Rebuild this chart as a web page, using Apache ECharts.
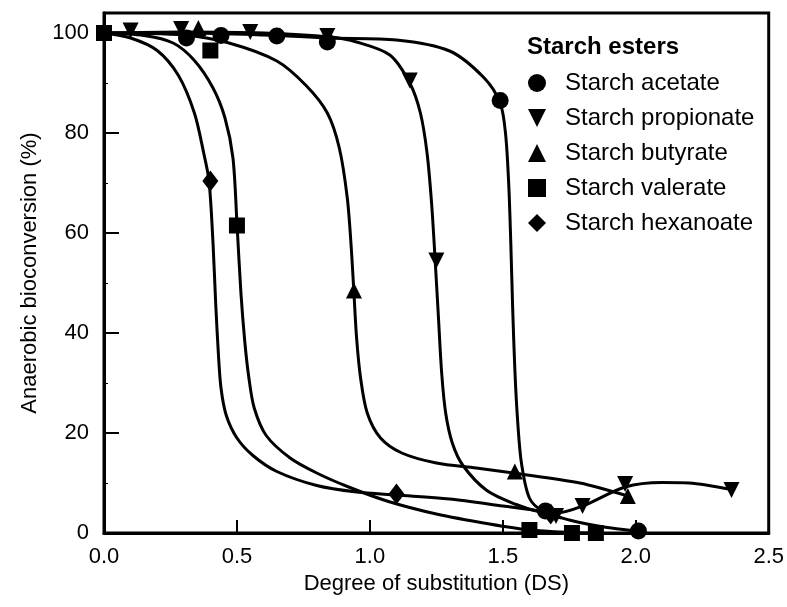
<!DOCTYPE html>
<html>
<head>
<meta charset="utf-8">
<script src="https://cdn.jsdelivr.net/npm/echarts@6/dist/echarts.min.js"></script>
<style>
  html, body { margin: 0; padding: 0; background: #fff; }
  #chart { width: 787px; height: 607px; }
</style>
</head>
<body>
<div id="chart"></div>
<script>
// measured points (DS, %) per ester
var acetatePts = [[0.31, 99], [0.44, 99.5], [0.65, 99.4], [0.84, 98.2], [1.49, 86.5], [1.66, 4.4], [2.01, 0.4]];
var propionatePts = [[0.1, 100.5], [0.29, 100.8], [0.55, 100.2], [0.84, 99.4], [1.15, 90.5], [1.25, 54.5], [1.70, 3.4], [1.80, 5.4], [1.96, 9.8], [2.36, 8.6]];
var butyratePts = [[0.355, 101], [0.94, 48.5], [1.545, 12.3], [1.97, 7.4]];
var valeratePts = [[0, 100], [0.40, 96.5], [0.50, 61.5], [1.60, 0.6], [1.76, 0], [1.85, 0]];
var hexanoatePts = [[0.40, 70.4], [1.10, 7.8], [1.68, 3.8]];

// fitted curves
var acetateCurve = [[0, 100], [0.3, 100], [0.6, 99.6], [0.85, 99], [1.1, 98.6], [1.3, 96.4], [1.43, 91], [1.49, 86], [1.51, 80], [1.522, 70], [1.53, 58], [1.537, 45], [1.545, 33], [1.555, 23], [1.57, 14], [1.6, 7], [1.65, 4.4], [1.75, 2.6], [1.88, 1.2], [2.0, 0.4]];
var propionateCurve = [[0, 100], [0.3, 100.2], [0.6, 100], [0.85, 99.2], [0.95, 98.2], [1.075, 95.6], [1.15, 90], [1.19, 84], [1.215, 76], [1.232, 66], [1.245, 55], [1.258, 43], [1.27, 32], [1.285, 24], [1.31, 18], [1.35, 13.5], [1.44, 8.5], [1.55, 5.7], [1.64, 4.2], [1.7, 4], [1.8, 5.4], [1.96, 9.2], [2.1, 10.1], [2.2, 10], [2.36, 8.7]];
var butyrateCurve = [[0, 100], [0.3, 99.6], [0.47, 98], [0.65, 94.4], [0.76, 89.5], [0.84, 84], [0.885, 77], [0.915, 67], [0.93, 57], [0.94, 48], [0.95, 39], [0.965, 31], [0.99, 24], [1.04, 19], [1.12, 16], [1.25, 14], [1.4, 13], [1.54, 12], [1.79, 10], [1.97, 7.4]];
var valerateCurve = [[0, 100], [0.15, 99.5], [0.26, 98], [0.34, 94.5], [0.41, 89], [0.455, 83], [0.485, 75], [0.5, 62], [0.515, 48], [0.53, 38], [0.545, 31], [0.565, 25], [0.61, 19.5], [0.7, 15], [0.8, 12], [0.92, 9.2], [1.07, 6.3], [1.25, 3.8], [1.45, 1.8], [1.6, 0.6], [1.76, 0.1], [1.85, 0]];
var hexanoateCurve = [[0, 100], [0.1, 99], [0.2, 96.5], [0.28, 91.5], [0.34, 84], [0.375, 76], [0.395, 70.4], [0.41, 58], [0.42, 46], [0.43, 36], [0.44, 29], [0.46, 23.5], [0.5, 19], [0.56, 15.5], [0.65, 12.3], [0.8, 9.5], [0.95, 8.2], [1.1, 7.6], [1.3, 6.8], [1.5, 5.4], [1.65, 4.3], [1.72, 3]];

var xTicks = [0, 0.5, 1.0, 1.5, 2.0, 2.5];
var yTicks = [0, 20, 40, 60, 80, 100];

var names = ['Starch acetate', 'Starch propionate', 'Starch butyrate', 'Starch valerate', 'Starch hexanoate'];
var symbols = ['circle', 'path://M0,0L10,0L5,10Z', 'triangle', 'rect', 'diamond'];
var symbolSizes = [17, 16, 16, 16, [16, 21]];
var points = [acetatePts, propionatePts, butyratePts, valeratePts, hexanoatePts];
var curves = [acetateCurve, propionateCurve, butyrateCurve, valerateCurve, hexanoateCurve];

var FONT = '"Liberation Sans", Arial, Helvetica, sans-serif';

var chart = echarts.init(document.getElementById('chart'), null, { renderer: 'canvas' });

var series = [];
curves.forEach(function (c, i) {
  series.push({
    name: names[i] + ' fit',
    type: 'line',
    data: c,
    smooth: 0.3,
    showSymbol: false,
    symbol: 'none',
    clip: false,
    lineStyle: { color: '#000', width: 3 },
    z: 2
  });
});
points.forEach(function (p, i) {
  series.push({
    name: names[i],
    type: 'scatter',
    data: p,
    symbol: symbols[i],
    symbolSize: symbolSizes[i],
    clip: false,
    itemStyle: { color: '#000', opacity: 1 },
    z: 3
  });
});

var option = {
  backgroundColor: '#fff',
  animation: false,
  title: {
    text: 'Starch esters',
    left: 527,
    top: 35,
    padding: 0,
    textStyle: { fontFamily: FONT, fontSize: 24, fontWeight: 'bold', color: '#000' }
  },
  legend: {
    orient: 'vertical',
    left: 528,
    top: 71,
    padding: 0,
    itemGap: 11,
    itemWidth: 18,
    itemHeight: 18,
    data: names.map(function (n, i) { return { name: n, icon: symbols[i] }; }),
    itemStyle: { color: '#000' },
    textStyle: { fontFamily: FONT, fontSize: 24, color: '#000', padding: [0, 0, 0, 14] }
  },
  grid: {
    left: 104, right: 18, top: 13, bottom: 74,
    show: true, borderColor: '#000', borderWidth: 3, backgroundColor: 'transparent'
  },
  xAxis: {
    type: 'value',
    min: xTicks[0],
    max: xTicks[xTicks.length - 1],
    interval: 0.5,
    name: 'Degree of substitution (DS)',
    nameLocation: 'middle',
    nameGap: 39,
    nameTextStyle: { fontFamily: FONT, fontSize: 22, color: '#000' },
    axisLine: { lineStyle: { color: '#000', width: 3 } },
    axisTick: { inside: true, length: 13, lineStyle: { color: '#000', width: 2 } },
    splitLine: { show: false },
    axisLabel: {
      fontFamily: FONT, fontSize: 22, color: '#000', margin: 13,
      formatter: function (v) { return v.toFixed(1); }
    }
  },
  yAxis: {
    type: 'value',
    min: yTicks[0],
    max: 104,
    interval: 20,
    name: 'Anaerobic bioconversion (%)',
    nameLocation: 'middle',
    nameGap: 60,
    nameTextStyle: { fontFamily: FONT, fontSize: 22, color: '#000' },
    axisLine: { lineStyle: { color: '#000', width: 3 } },
    axisTick: { inside: true, length: 15, lineStyle: { color: '#000', width: 2 } },
    minorTick: { show: true, splitNumber: 2, length: 4, lineStyle: { color: '#000', width: 1 } },
    splitLine: { show: false },
    axisLabel: {
      fontFamily: FONT, fontSize: 22, color: '#000', margin: 15, showMaxLabel: false,
      formatter: function (v) { return yTicks.indexOf(v) >= 0 ? String(v) : ''; }
    }
  },
  series: series
};

chart.setOption(option);
window.addEventListener('resize', function () { chart.resize(); });
</script>
</body>
</html>
